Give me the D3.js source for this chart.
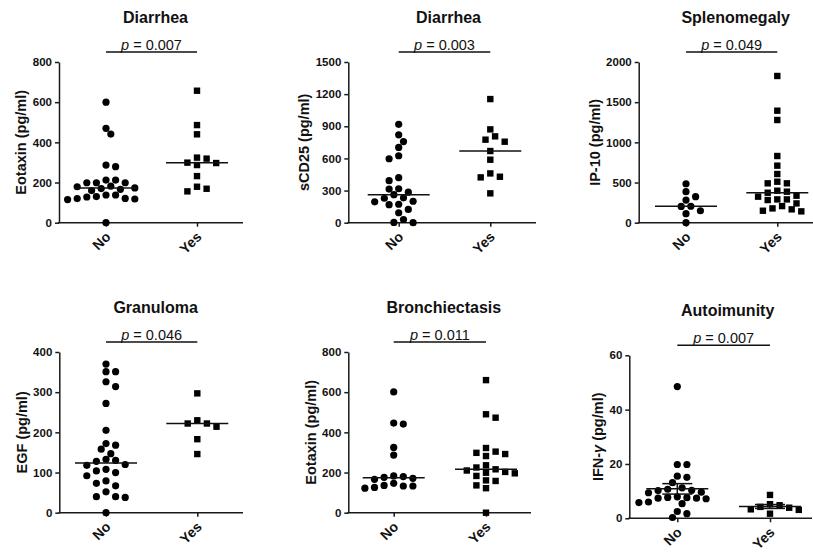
<!DOCTYPE html>
<html>
<head>
<meta charset="utf-8">
<title>Cytokine levels by clinical feature</title>
<script src="https://cdnjs.cloudflare.com/ajax/libs/d3/7.8.5/d3.min.js"></script>
<style>
	body{margin:0;background:#fff;}
	svg{display:block;font-family:Arial,"Liberation Sans",sans-serif;}
	.axis path,.axis line{stroke:#1a1a1a;stroke-width:1.5px;}
	.axis text{font-size:11.5px;font-weight:bold;fill:#111;}
</style>
</head>
<body>
<div id="chart"></div>
<script>
	var groups = ["No", "Yes"];
	var titles = ["Diarrhea", "Diarrhea", "Splenomegaly", "Granuloma", "Bronchiectasis", "Autoimunity"];
	var yTitles = ["Eotaxin (pg/ml)", "sCD25 (pg/ml)", "IP-10 (pg/ml)", "EGF (pg/ml)", "Eotaxin (pg/ml)", "IFN-γ (pg/ml)"];
	var pValues = ["0.007", "0.003", "0.049", "0.046", "0.011", "0.007"];
	var yTicks = [
		[0, 200, 400, 600, 800],
		[0, 300, 600, 900, 1200, 1500],
		[0, 500, 1000, 1500, 2000],
		[0, 100, 200, 300, 400],
		[0, 200, 400, 600, 800],
		[0, 20, 40, 60]
	];

	//values (pg/ml)
	var diarEotaxinNo = [600, 470, 441, 287, 279, 212, 212, 199, 199, 199, 182, 179, 173, 170, 166, 160, 138, 138, 130, 128, 121, 120, 118, 115, 0];
	var diarEotaxinYes = [657, 486, 440, 324, 319, 299, 297, 287, 232, 179, 169, 156];
	var diarCD25No = [918, 820, 757, 703, 625, 597, 420, 392, 317, 314, 285, 262, 232, 228, 200, 195, 172, 168, 124, 93, 30, 3, 0];
	var diarCD25Yes = [1154, 871, 806, 775, 756, 669, 588, 460, 429, 423, 274];
	var splenIP10No = [485, 386, 324, 282, 205, 203, 149, 112, 0];
	var splenIP10Yes = [1826, 1394, 1278, 830, 710, 606, 510, 490, 490, 398, 386, 373, 336, 324, 290, 290, 282, 240, 207, 178, 166, 149, 141];
	var granEGFNo = [370, 351, 351, 326, 314, 272, 205, 172, 168, 158, 147, 133, 130, 128, 120, 118, 108, 104, 100, 92, 79, 73, 67, 52, 40, 40, 38, 0];
	var granEGFYes = [297, 230, 222, 222, 214, 183, 146];
	var bronEotaxinNo = [601, 446, 441, 325, 287, 183, 180, 176, 171, 166, 146, 136, 133, 133, 126, 122];
	var bronEotaxinYes = [660, 490, 473, 322, 304, 298, 292, 282, 236, 225, 216, 210, 203, 199, 196, 183, 161, 158, 136, 122, 0];
	var autoIFNgNo = [48.5, 19.8, 19.8, 15.5, 15.1, 13.1, 11.2, 10.7, 10.3, 10.2, 9.6, 9.4, 7.9, 7.7, 7.6, 7.4, 7.4, 7.2, 6.0, 5.8, 5.4, 2.5, 1.7, 0.3];
	var autoIFNgYes = [8.6, 5.2, 4.8, 4.2, 3.9, 3.3, 3.1, 1.7];

	var panelData = [
		[diarEotaxinNo, diarEotaxinYes],
		[diarCD25No, diarCD25Yes],
		[splenIP10No, splenIP10Yes],
		[granEGFNo, granEGFYes],
		[bronEotaxinNo, bronEotaxinYes],
		[autoIFNgNo, autoIFNgYes]
	];
	//last panel shows mean +/- SEM, the others the median
	var summary = ["median", "median", "median", "median", "median", "meanSem"];

	//plot boxes: y axis x, x axis end, value top/bottom, category range
	var layout = [
		{left: 59, right: 243, top: 62, bottom: 222.7, x0: 106, x1: 197},
		{left: 348.3, right: 536, top: 62, bottom: 222.7, x0: 398.7, x1: 490.3},
		{left: 638.7, right: 821, top: 62, bottom: 222.7, x0: 686, x1: 777.3},
		{left: 59.3, right: 243, top: 352, bottom: 512.7, x0: 106, x1: 197.3},
		{left: 348.3, right: 531, top: 352, bottom: 512.7, x0: 393.7, x1: 486},
		{left: 629.3, right: 812, top: 355.3, bottom: 518.3, x0: 677.3, x1: 770}
	];

	var svg = d3.select("#chart").append("svg")
				.attr("width", 813)
				.attr("height", 553);

	//simple beeswarm: spread points sideways in half steps until they do not overlap
	function swarm(vals, y, cx, step, minDist) {
		var pts = vals.map(function(v){ return {v: v, y: y(v)}; })
			.sort(function(a, b){ return a.y - b.y; });
		var placed = [];
		pts.forEach(function(p, n) {
			var side = n % 2 ? -1 : 1;
			for (var k = 0; ; k++) {
				var off = k === 0 ? 0 : Math.ceil(k / 2) * step / 2 * (k % 2 ? side : -side);
				var ok = placed.every(function(q) {
					var dx = q.x - (cx + off), dy = q.y - p.y;
					return dx * dx + dy * dy >= minDist * minDist;
				});
				if (ok) { p.x = cx + off; break; }
			}
			placed.push(p);
		});
		return placed;
	}

	layout.forEach(function(L, i) {
		var g = svg.append("g");
		var y = d3.scaleLinear().domain([0, d3.max(yTicks[i])]).range([L.bottom, L.top]);
		var x = d3.scalePoint().domain(groups).range([L.x0, L.x1]);

		//y axis
		var yAxisG = g.append("g").attr("class", "axis")
			.attr("transform", "translate(" + L.left + ",0)")
			.call(d3.axisLeft(y).tickValues(yTicks[i]).tickFormat(d3.format("d"))
				.tickSize(4).tickSizeOuter(0).tickPadding(3));
		yAxisG.attr("font-size", null).attr("font-family", null);

		//x axis line + category ticks
		g.append("line")
			.attr("x1", L.left - 1).attr("x2", L.right)
			.attr("y1", L.bottom).attr("y2", L.bottom)
			.attr("stroke", "#1a1a1a").attr("stroke-width", 1.5);
		var xAxisG = g.append("g").attr("class", "axis")
			.attr("transform", "translate(0," + L.bottom + ")")
			.call(d3.axisBottom(x).tickSize(4).tickSizeOuter(0));
		xAxisG.attr("font-size", null).attr("font-family", null);
		xAxisG.select(".domain").remove();
		xAxisG.selectAll("text")
			.attr("y", null).attr("dy", null)
			.attr("text-anchor", "end")
			.attr("transform", "translate(5,15) rotate(-45)")
			.style("font-size", "14px");

		//axis title
		var bb = yAxisG.node().getBBox();
		var yt = g.append("text")
			.attr("transform", "translate(" + (L.left + bb.x - 11.5) + "," + (L.top + L.bottom) / 2 + ") rotate(-90)")
			.attr("text-anchor", "middle")
			.attr("dy", "0.35em")
			.style("font-size", "14.5px")
			.style("font-weight", "bold")
			.attr("fill", "#111");
		yTitles[i].split(/(γ)/).forEach(function(part) {
			if (!part) return;
			yt.append("tspan").text(part).style("font-style", part === "γ" ? "italic" : null);
		});

		//title and p value bracket
		g.append("text").text(titles[i])
			.attr("x", (L.x0 + L.x1) / 2 + 4)
			.attr("y", L.top - 39)
			.attr("text-anchor", "middle")
			.style("font-size", "16px")
			.style("font-weight", "bold")
			.attr("fill", "#111");
		var pt = g.append("text")
			.attr("x", (L.x0 + L.x1) / 2)
			.attr("y", L.top - 12.5)
			.attr("text-anchor", "middle")
			.style("font-size", "14.5px")
			.attr("fill", "#111");
		pt.append("tspan").text("p").style("font-style", "italic");
		pt.append("tspan").text(" = " + pValues[i]);
		g.append("line")
			.attr("x1", L.x0).attr("x2", L.x1)
			.attr("y1", L.top - 10).attr("y2", L.top - 10)
			.attr("stroke", "#111").attr("stroke-width", 1.5);

		//points and summary lines
		groups.forEach(function(grp, j) {
			var vals = panelData[i][j];
			var pts = swarm(vals, y, x(grp), 9.6, 7.3);
			if (j === 0) {
				g.selectAll(".c" + j).data(pts).enter().append("circle")
					.attr("cx", function(d){ return d.x; })
					.attr("cy", function(d){ return d.y; })
					.attr("r", 3.6)
					.attr("fill", "#000");
			} else {
				g.selectAll(".s" + j).data(pts).enter().append("rect")
					.attr("x", function(d){ return d.x - 3.2; })
					.attr("y", function(d){ return d.y - 3.2; })
					.attr("width", 6.4).attr("height", 6.4)
					.attr("fill", "#000");
			}

			var cx = x(grp);
			if (summary[i] === "median") {
				var m = d3.median(vals);
				g.append("line")
					.attr("x1", cx - 31).attr("x2", cx + 31)
					.attr("y1", y(m)).attr("y2", y(m))
					.attr("stroke", "#111").attr("stroke-width", 1.5);
			} else {
				var mean = d3.mean(vals);
				var sem = d3.deviation(vals) / Math.sqrt(vals.length);
				g.append("line")
					.attr("x1", cx - 31).attr("x2", cx + 31)
					.attr("y1", y(mean)).attr("y2", y(mean))
					.attr("stroke", "#111").attr("stroke-width", 1.5);
				g.append("line")
					.attr("x1", cx).attr("x2", cx)
					.attr("y1", y(mean - sem)).attr("y2", y(mean + sem))
					.attr("stroke", "#111").attr("stroke-width", 1.5);
				[mean - sem, mean + sem].forEach(function(v) {
					g.append("line")
						.attr("x1", cx - 15).attr("x2", cx + 15)
						.attr("y1", y(v)).attr("y2", y(v))
						.attr("stroke", "#111").attr("stroke-width", 1.5);
				});
			}
		});
	});
</script>
</body>
</html>
